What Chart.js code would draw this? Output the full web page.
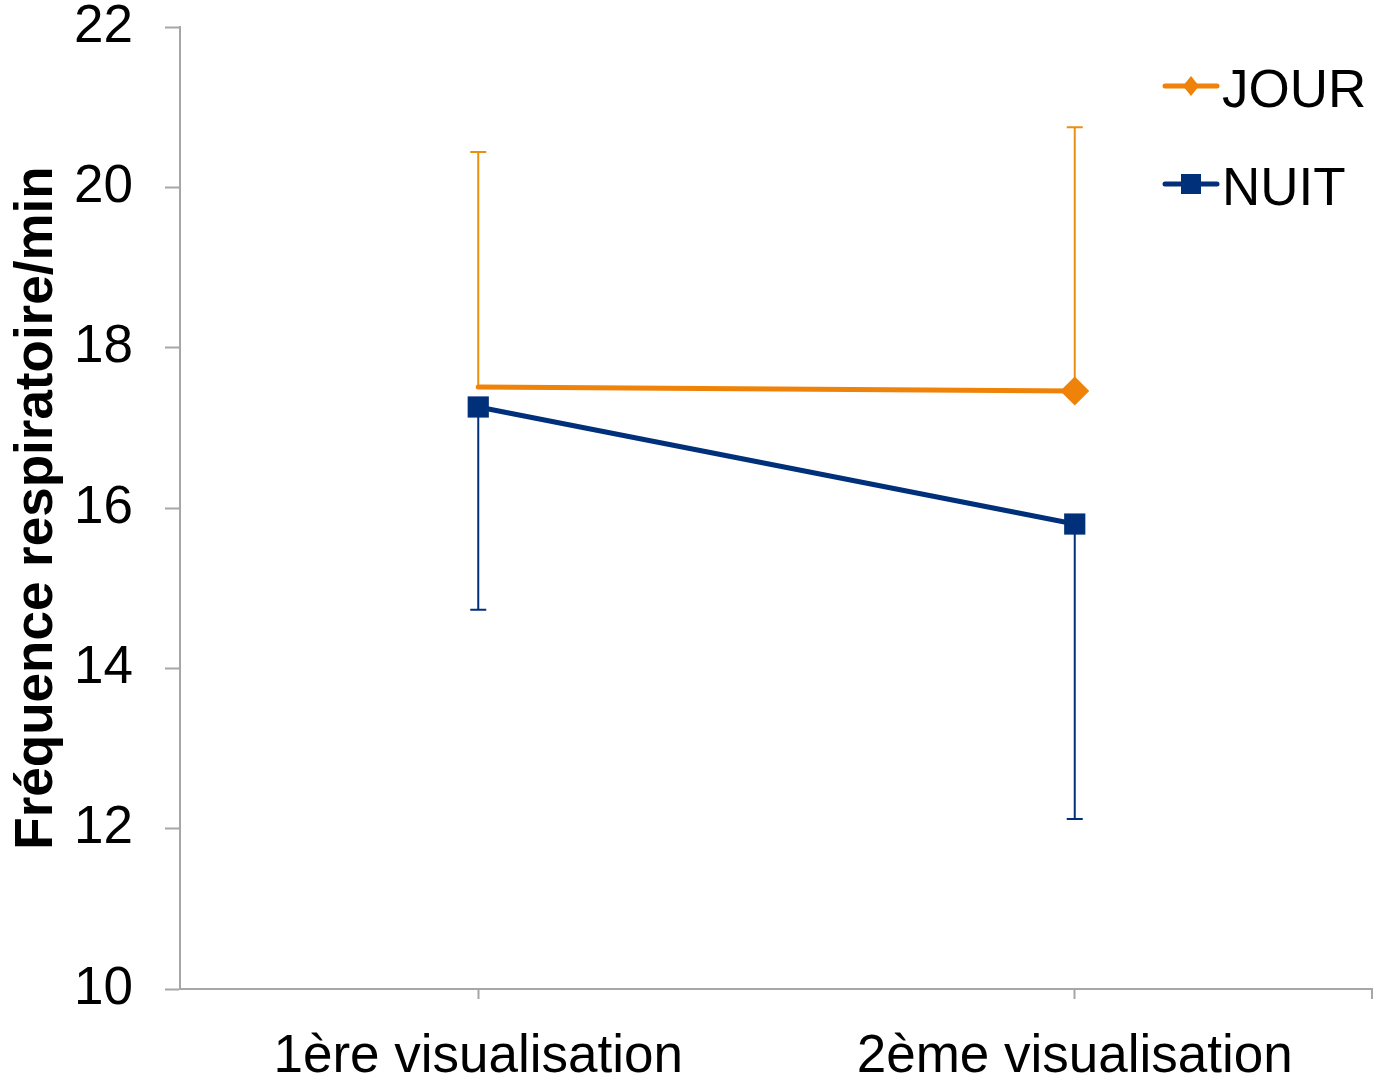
<!DOCTYPE html>
<html>
<head>
<meta charset="utf-8">
<script src="https://cdn.jsdelivr.net/npm/chart.js@4.4.1/dist/chart.umd.min.js"></script>
<style>
  html, body { margin: 0; padding: 0; background: #fff; overflow: hidden; }
  #wrap { width: 1373px; height: 1080px; position: relative; }
  canvas { display: block; }
</style>
</head>
<body>
<div id="wrap"><canvas id="respChart"></canvas></div>
<script>
/* Data */
const categories = ["1ère visualisation", "2ème visualisation"];
const jourValues = [17.51, 17.46];
const nuitValues = [17.26, 15.8];
const jourSd = [2.93, 3.29]; // drawn upward
const nuitSd = [2.53, 3.68]; // drawn downward
const yTicks = [10, 12, 14, 16, 18, 20, 22];

const FONT = "'Liberation Sans', Arial, sans-serif";
const AXIS = "#A6A6A6";
const ORANGE = "#EF8208";
const ORANGE_BAR = "#E9900E";
const NAVY = "#00307A";

/* error bars, one direction per series */
const errorBars = {
  id: "errorBars",
  beforeDatasetsDraw(chart) {
    const { ctx, scales } = chart;
    chart.data.datasets.forEach((ds, i) => {
      const meta = chart.getDatasetMeta(i);
      ctx.save();
      ctx.strokeStyle = ds.barColor;
      ctx.lineWidth = 2;
      meta.data.forEach((pt, j) => {
        const end = scales.y.getPixelForValue(ds.data[j] + ds.errDir * ds.sd[j]);
        ctx.beginPath();
        ctx.moveTo(pt.x, pt.y);
        ctx.lineTo(pt.x, end);
        ctx.moveTo(pt.x - 8, end);
        ctx.lineTo(pt.x + 8, end);
        ctx.stroke();
      });
      ctx.restore();
    });
  },
  afterDraw(chart) {
    const { ctx, chartArea } = chart;
    // closing tick at the right end of the x axis
    ctx.save();
    ctx.strokeStyle = AXIS;
    ctx.lineWidth = 2;
    ctx.beginPath();
    ctx.moveTo(chartArea.right - 1, chartArea.bottom);
    ctx.lineTo(chartArea.right - 1, chartArea.bottom + 10);
    ctx.stroke();
    ctx.restore();
  },
};

/* legend: line + marker + label */
const sideLegend = {
  id: "sideLegend",
  afterDraw(chart) {
    const ctx = chart.ctx;
    const rows = [86, 184];
    const x0 = 1165, x1 = 1217, cx = 1191;
    chart.data.datasets.forEach((ds, i) => {
      const y = rows[i];
      ctx.save();
      ctx.strokeStyle = ds.borderColor;
      ctx.fillStyle = ds.borderColor;
      ctx.lineWidth = 5;
      ctx.lineCap = "round";
      ctx.beginPath();
      ctx.moveTo(x0, y);
      ctx.lineTo(x1, y);
      ctx.stroke();
      ctx.beginPath();
      if (ds.pointStyle === "rect") {
        ctx.rect(cx - 10, y - 10, 20, 20);
      } else {
        ctx.moveTo(cx, y - 10);
        ctx.lineTo(cx + 8, y);
        ctx.lineTo(cx, y + 10);
        ctx.lineTo(cx - 8, y);
        ctx.closePath();
      }
      ctx.fill();
      ctx.fillStyle = "#000";
      ctx.font = "53px " + FONT;
      ctx.textBaseline = "middle";
      ctx.fillText(ds.label, 1222, y + 6);
      ctx.restore();
    });
  },
};

const respChart = new Chart(document.getElementById("respChart"), {
  type: "line",
  data: {
    labels: categories,
    datasets: [
      {
        label: "JOUR",
        data: jourValues,
        sd: jourSd,
        errDir: 1,
        barColor: ORANGE_BAR,
        borderColor: ORANGE,
        backgroundColor: ORANGE,
        borderWidth: 5,
        borderCapStyle: "round",
        pointStyle: "rectRot",
        pointRadius: [0, 14.5],
        pointBorderWidth: 0,
        tension: 0,
      },
      {
        label: "NUIT",
        data: nuitValues,
        sd: nuitSd,
        errDir: -1,
        barColor: NAVY,
        borderColor: NAVY,
        backgroundColor: NAVY,
        borderWidth: 5,
        borderCapStyle: "round",
        pointStyle: "rect",
        pointRadius: 15,
        pointBorderWidth: 0,
        tension: 0,
      },
    ],
  },
  options: {
    responsive: true,
    maintainAspectRatio: false,
    animation: false,
    layout: { autoPadding: false, padding: { top: 27, right: 0, left: 0, bottom: 0 } },
    scales: {
      x: {
        offset: true,
        grid: {
          offset: false,
          drawOnChartArea: false,
          tickLength: 10,
          tickColor: AXIS,
          tickWidth: 2,
        },
        border: { color: AXIS, width: 2 },
        ticks: {
          color: "#000",
          padding: 27,
          maxRotation: 0,
          font: { family: FONT, size: 53, lineHeight: 1.2 },
        },
        afterFit(scale) {
          scale.height = 91;
          scale.paddingLeft = 0;
          scale.paddingRight = 0;
        },
      },
      y: {
        min: 10,
        max: 22,
        afterBuildTicks(scale) {
          scale.ticks = yTicks.map((v) => ({ value: v }));
        },
        grid: {
          drawOnChartArea: false,
          tickLength: 15,
          tickColor: AXIS,
          tickWidth: 2,
        },
        border: { color: AXIS, width: 2 },
        ticks: {
          color: "#000",
          padding: 32,
          font: { family: FONT, size: 53, lineHeight: 1 },
        },
        title: {
          display: true,
          text: "Fréquence respiratoire/min",
          color: "#000",
          padding: { top: 6, bottom: 0 },
          font: { family: FONT, size: 53, weight: "bold", lineHeight: 1.2 },
        },
        afterFit(scale) {
          scale.width = 180;
          scale.paddingTop = 0;
          scale.paddingBottom = 0;
        },
      },
    },
    plugins: {
      legend: { display: false },
      tooltip: { enabled: false },
    },
  },
  plugins: [errorBars, sideLegend],
});
</script>
</body>
</html>
